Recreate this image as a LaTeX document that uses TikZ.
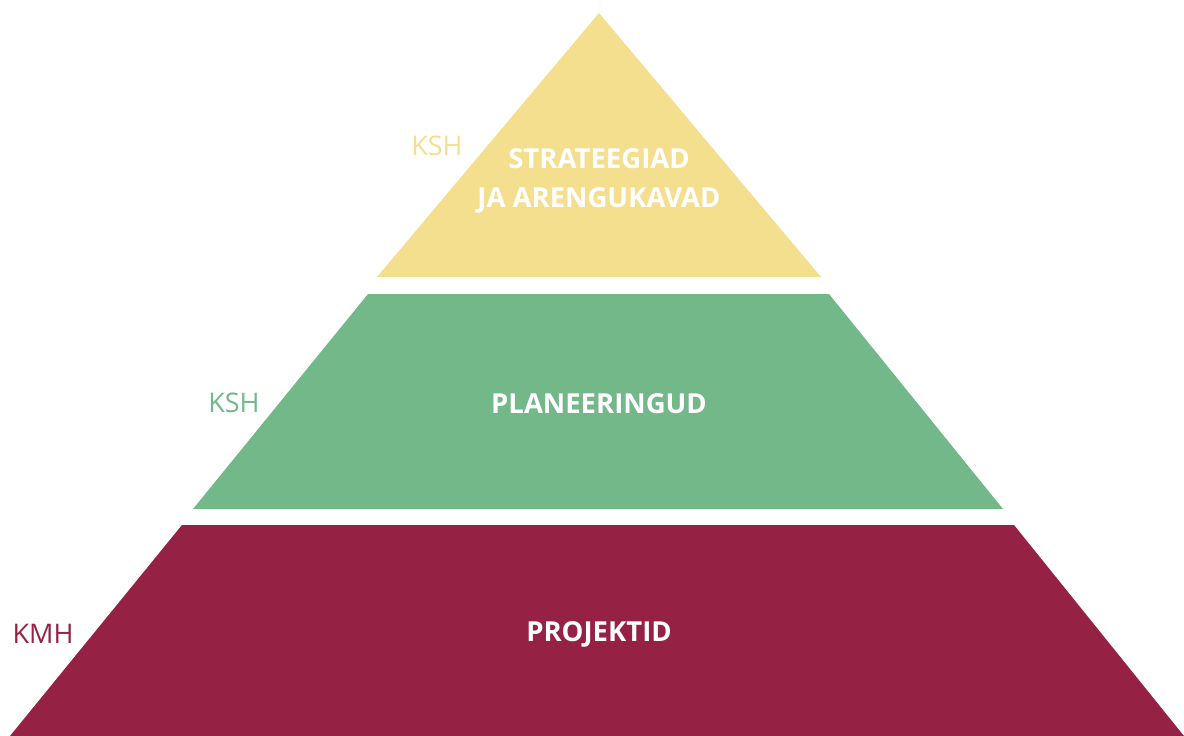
\documentclass[tikz,border=0pt]{standalone}
\usepackage{fontspec}
\setmainfont{Open Sans}
\definecolor{tieryellow}{HTML}{F4DF8F}
\definecolor{tiergreen}{HTML}{73B889}
\definecolor{tierred}{HTML}{952245}
\tikzset{
  tiertext/.style={text=white, font=\bfseries\fontsize{27.5}{39.5}\selectfont, align=center, inner sep=0pt},
  sidetext/.style={font=\fontsize{27}{30}\selectfont, inner sep=0pt}
}
\begin{document}
\begin{tikzpicture}[x=1pt,y=-1pt]
      \useasboundingbox (0,0) rectangle (1184,736);
      \def \Tiers{
        599/599/13/377/821/277/tieryellow,
        368/829/294/193/1003/509/tiergreen,
        182/1014/525/10/1184/736/tierred}
      \foreach \tl / \tr / \ty / \bl / \br / \by / \col in \Tiers{
        \fill[\col] (\tl, \ty) -- (\tr, \ty) -- (\br, \by) -- (\bl, \by) -- cycle;
      }
      \node[tiertext] (strateegiad) at (599, 181) {STRATEEGIAD\\JA ARENGUKAVAD};
      \node[tiertext] (planeeringud) at (599, 404) {PLANEERINGUD};
      \node[tiertext] (projektid) at (599, 634) {PROJEKTID};
      \node[sidetext, text=tieryellow] (kshtop) at (437, 146) {KSH};
      \node[sidetext, text=tiergreen] (kshmid) at (234, 403) {KSH};
      \node[sidetext, text=tierred] (kmh) at (43, 634) {KMH};
    \end{tikzpicture}
\end{document}
